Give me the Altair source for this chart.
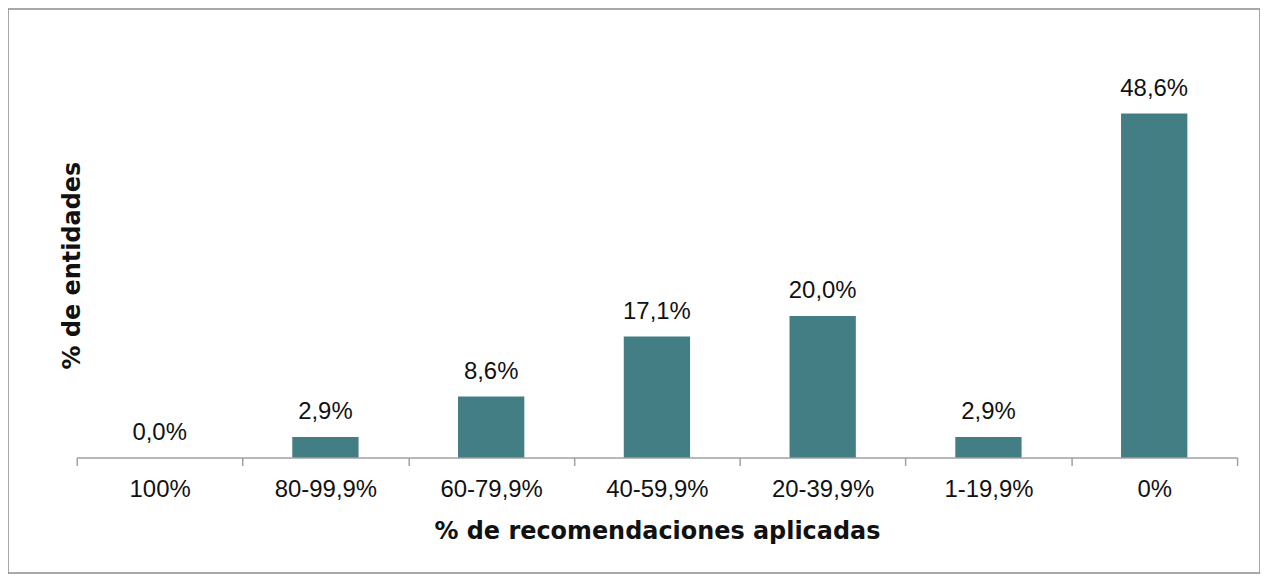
import altair as alt
import pandas as pd

categories = ["100%", "80-99,9%", "60-79,9%", "40-59,9%", "20-39,9%", "1-19,9%", "0%"]
values = [0.0, 2.9, 8.6, 17.1, 20.0, 2.9, 48.6]

df = pd.DataFrame({
    "cat": categories,
    "val": values,
    "label": [f"{v:.1f}".replace(".", ",") + "%" for v in values],
})

W, H = 1256, 566
AXIS_Y = 450

x = alt.X(
    "cat:N",
    sort=categories,
    scale=alt.Scale(range=[69, 1233], paddingInner=0, paddingOuter=0, round=False),
    axis=alt.Axis(
        title="% de recomendaciones aplicadas",
        labelAngle=0,
        tickBand="extent",
        offset=AXIS_Y - H,
        domainColor="#a0a0a0",
        domainWidth=1.5,
        tickColor="#a0a0a0",
        tickWidth=1.5,
        tickSize=8,
        labelPadding=12,
        labelFont="Liberation Sans",
        labelFontSize=24,
        labelColor="#111111",
        titleFont="DejaVu Sans",
        titleFontWeight="bold",
        titleFontSize=24,
        titleColor="#111111",
        titleY=74,
        titleBaseline="middle",
    ),
)

y = alt.Y(
    "val:Q",
    scale=alt.Scale(domain=[0, 60], range=[AXIS_Y, 24], nice=False),
    axis=alt.Axis(
        title="% de entidades",
        labels=False,
        ticks=False,
        domain=False,
        grid=False,
        titleFont="DejaVu Sans",
        titleFontWeight="bold",
        titleFontSize=24,
        titleColor="#111111",
        titleX=65,
        titleY=257,
        titleAngle=-90,
        titleAlign="center",
        titleBaseline="middle",
    ),
)

bars = alt.Chart(df).mark_bar(color="#447e85", width={"band": 0.4}).encode(x=x, y=y)

labels = alt.Chart(df).mark_text(
    font="Liberation Sans", fontSize=24, color="#111111", dy=-18, baseline="alphabetic"
).encode(x=x, y=y, text="label:N")

chart = (
    alt.layer(bars, labels)
    .properties(width=W, height=H, autosize=alt.AutoSizeParams(type="none"), padding=0, background="white")
    .configure_view(stroke="#8c8c8c", strokeWidth=1.5)
)

chart.save("out.html", embed_options={"renderer": "svg", "actions": False})
